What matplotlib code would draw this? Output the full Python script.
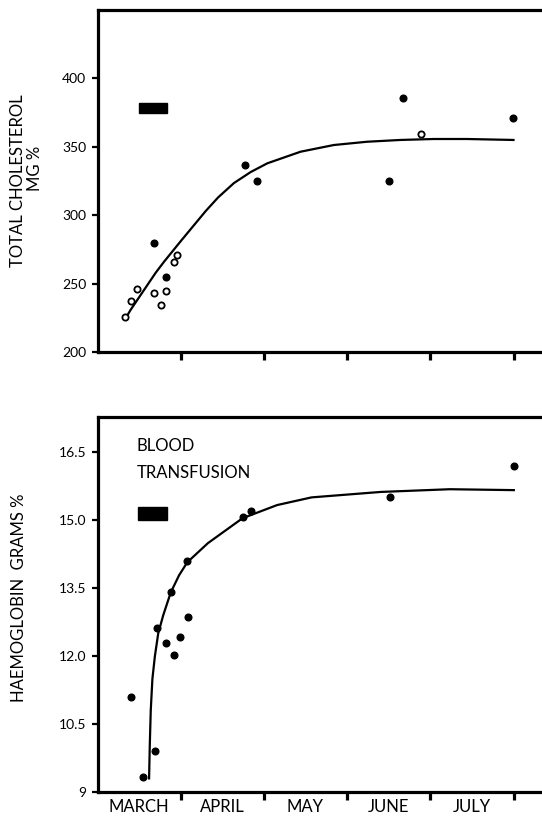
import matplotlib
matplotlib.use("Agg")
import matplotlib.pyplot as plt
from matplotlib.patches import Rectangle

plt.rcParams['font.family'] = ['Lato', 'DejaVu Sans']

# ---- data (x = months after 1 March) ----
months = ["MARCH", "APRIL", "MAY", "JUNE", "JULY"]
month_ticks = [1, 2, 3, 4, 5]
month_label_pos = [0.5, 1.5, 2.5, 3.5, 4.5]

# Total cholesterol (mg %)
chol_open_x = [0.328, 0.397, 0.477, 0.677, 0.761, 0.829, 0.917, 0.958, 3.89]
chol_open_y = [225.8, 237.5, 246.1, 243.3, 234.1, 244.8, 265.6, 270.9, 359.4]
chol_fill_x = [0.677, 0.829, 1.77, 1.92, 3.50, 3.67, 4.99]
chol_fill_y = [279.5, 255.0, 336.5, 324.8, 324.8, 385.5, 370.8]
chol_curve_x = [0.345, 0.40, 0.50, 0.60, 0.70, 0.80, 0.90, 1.00, 1.15, 1.30,
                1.45, 1.64, 1.84, 2.04, 2.44, 2.84, 3.24, 3.64, 4.04, 4.44, 5.00]
chol_curve_y = [225.4, 231.0, 240.0, 249.0, 258.0, 266.0, 273.5, 281.0, 292.0,
                303.0, 313.0, 323.5, 331.5, 337.9, 346.4, 351.3, 353.7, 355.0,
                355.7, 355.7, 355.0]
chol_ticks = [200, 250, 300, 350, 400]
chol_ticklabels = ["200", "250", "300", "350", "400"]

# Haemoglobin (grams %)
hb_x = [0.405, 0.542, 0.691, 0.716, 0.828, 0.878, 0.920, 0.994, 1.078, 1.086,
        1.743, 1.842, 3.512, 5.004]
hb_y = [11.10, 9.32, 9.91, 12.62, 12.28, 13.41, 12.02, 12.43, 14.10, 12.87,
        15.07, 15.20, 15.51, 16.19]
hb_curve_x = [0.620, 0.628, 0.640, 0.660, 0.690, 0.730, 0.790, 0.880, 0.980,
              1.080, 1.327, 1.743, 2.158, 2.573, 3.404, 4.235, 5.004]
hb_curve_y = [9.30, 10.00, 10.80, 11.50, 12.00, 12.50, 12.90, 13.40, 13.78,
              14.07, 14.49, 15.04, 15.33, 15.50, 15.62, 15.68, 15.66]
hb_ticks = [9, 10.5, 12.0, 13.5, 15.0, 16.5]
hb_ticklabels = ["9", "10.5", "12.0", "13.5", "15.0", "16.5"]

W, H = 542, 818
fig = plt.figure(figsize=(W / 100, H / 100), dpi=100)

XMAX = 5.6
px_per_month = 83.2
left_px = 97.5
ax_w = XMAX * px_per_month / W


def style(ax):
    for s in ax.spines.values():
        s.set_linewidth(2.3)
    ax.tick_params(axis='y', direction='out', length=4, width=1.6,
                   labelsize=10, pad=4)
    ax.tick_params(axis='x', direction='out', length=6, width=2.3, pad=6)
    ax.set_xlim(0, XMAX)
    ax.set_xticks(month_ticks)


# ---- top panel ----
ax1 = fig.add_axes([left_px / W, 1 - 352 / H, ax_w, (352 - 10) / H])
style(ax1)
ax1.set_ylim(200, 450)
ax1.set_yticks(chol_ticks, chol_ticklabels)
ax1.set_xticklabels([])
ax1.plot(chol_curve_x, chol_curve_y, color='black', lw=1.6,
         solid_joinstyle='round')
ax1.plot(chol_open_x, chol_open_y, 'o', ms=4.5, mfc='white', mec='black', mew=1.3)
ax1.plot(chol_fill_x, chol_fill_y, 'o', ms=4.8, color='black')
ax1.add_patch(Rectangle((0.50, 374.5), 0.34, 7.3, color='black'))
fig.text(18 / W, 1 - 181 / H, "TOTAL CHOLESTEROL", rotation=90,
         ha='center', va='center', fontsize=12)
fig.text(35 / W, 1 - 168 / H, "MG %", rotation=90,
         ha='center', va='center', fontsize=12)

# ---- bottom panel ----
ax2 = fig.add_axes([left_px / W, 1 - 792 / H, ax_w, (792 - 416.7) / H])
style(ax2)
ax2.set_ylim(9, 17.28)
ax2.set_yticks(hb_ticks, hb_ticklabels)
ax2.set_xticklabels([])
ax2.set_xticks(month_label_pos, minor=True)
ax2.set_xticklabels(months, minor=True)
ax2.tick_params(axis='x', which='minor', length=0, labelsize=12, pad=5)
ax2.plot(hb_curve_x, hb_curve_y, color='black', lw=1.6,
         solid_joinstyle='round')
ax2.plot(hb_x, hb_y, 'o', ms=4.8, color='black')
ax2.text(0.469, 16.63, "BLOOD", fontsize=12, va='center', ha='left')
ax2.text(0.469, 16.03, "TRANSFUSION", fontsize=12, va='center', ha='left')
ax2.add_patch(Rectangle((0.488, 15.0), 0.349, 0.29, color='black'))
fig.text(19 / W, 1 - 598 / H, "HAEMOGLOBIN  GRAMS %", rotation=90,
         ha='center', va='center', fontsize=12)

fig.savefig("out.png", dpi=100)
